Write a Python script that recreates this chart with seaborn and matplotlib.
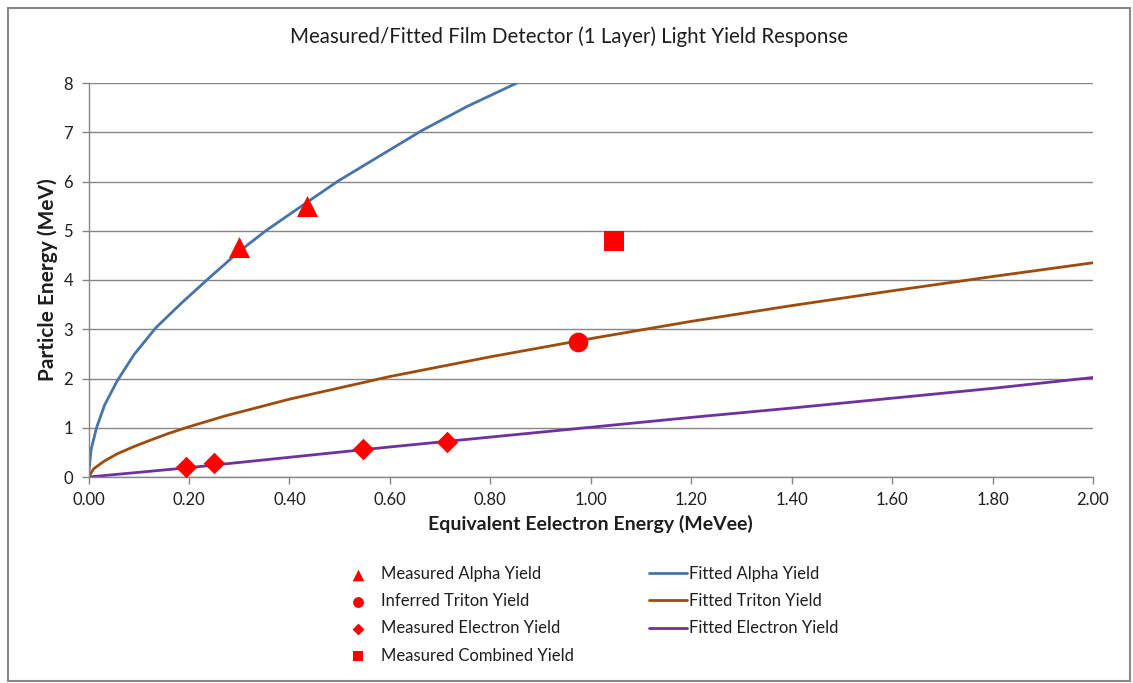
import matplotlib
matplotlib.use("Agg")
import matplotlib.pyplot as plt
from matplotlib import font_manager
from matplotlib.patches import Rectangle
import seaborn as sns

# Measured / inferred points (Equivalent electron energy MeVee, particle energy MeV)
alpha_x = [0.300, 0.436]
alpha_y = [4.67, 5.50]
triton_x = [0.975]
triton_y = [2.74]
electron_x = [0.195, 0.250, 0.547, 0.713]
electron_y = [0.20, 0.28, 0.57, 0.72]
combined_x = [1.046]
combined_y = [4.79]

# Fitted response curves
fit_alpha_x = [0.0, 0.005, 0.016, 0.032, 0.057, 0.091, 0.134, 0.186, 0.240,
               0.300, 0.353, 0.424, 0.497, 0.580, 0.663, 0.755, 0.853]
fit_alpha_y = [0.0, 0.55, 1.00, 1.46, 1.95, 2.49, 3.03, 3.54, 4.04,
               4.58, 5.00, 5.50, 6.01, 6.52, 7.03, 7.53, 8.00]
fit_triton_x = [0.0, 0.0106, 0.031, 0.057, 0.091, 0.124, 0.158, 0.200, 0.272,
                0.400, 0.600, 0.800, 1.000, 1.200, 1.400, 1.600, 1.800, 2.000]
fit_triton_y = [0.0, 0.17, 0.32, 0.47, 0.62, 0.75, 0.88, 1.02, 1.24,
                1.58, 2.04, 2.44, 2.81, 3.16, 3.48, 3.78, 4.07, 4.35]
fit_electron_x = [0.0, 0.2, 0.4, 0.6, 0.8, 1.0, 1.2, 1.4, 1.6, 1.8, 2.0]
fit_electron_y = [0.0, 0.19, 0.40, 0.61, 0.81, 1.01, 1.21, 1.40, 1.60, 1.80, 2.02]

x_ticks = [0.0, 0.2, 0.4, 0.6, 0.8, 1.0, 1.2, 1.4, 1.6, 1.8, 2.0]
x_tick_labels = ["0.00", "0.20", "0.40", "0.60", "0.80", "1.00",
                 "1.20", "1.40", "1.60", "1.80", "2.00"]
y_ticks = [0, 1, 2, 3, 4, 5, 6, 7, 8]

sns.set_theme(style="white")
available = {f.name for f in font_manager.fontManager.ttflist}
family = "Liberation Sans Narrow" if "Liberation Sans Narrow" in available else "Lato"
plt.rcParams["font.family"] = [family, "DejaVu Sans"]

W, H = 1133, 683
fig = plt.figure(figsize=(W / 100, H / 100), dpi=100)
fig.patch.set_facecolor("white")

def fx(px):
    return px / W

def fy(py):
    return 1 - py / H

ax = fig.add_axes([fx(88.5), fy(477), fx(1093) - fx(88.5), fy(83) - fy(477)])

grid_c = "#868686"
text_c = "#1e1e1e"
blue, brown, purple, red = "#4674AA", "#9E4B0E", "#7030A0", "#FF0000"

sns.lineplot(x=fit_alpha_x, y=fit_alpha_y, ax=ax, color=blue, linewidth=2.0,
             sort=False, estimator=None, label="Fitted Alpha Yield", legend=False)
sns.lineplot(x=fit_triton_x, y=fit_triton_y, ax=ax, color=brown, linewidth=2.0,
             sort=False, estimator=None, label="Fitted Triton Yield", legend=False)
sns.lineplot(x=fit_electron_x, y=fit_electron_y, ax=ax, color=purple, linewidth=2.0,
             sort=False, estimator=None, label="Fitted Electron Yield", legend=False)

sns.scatterplot(x=alpha_x, y=alpha_y, ax=ax, marker="^", s=230, color=red,
                linewidth=0, label="Measured Alpha Yield", legend=False, zorder=5)
sns.scatterplot(x=triton_x, y=triton_y, ax=ax, marker="o", s=200, color=red,
                linewidth=0, label="Inferred Triton Yield", legend=False, zorder=5)
sns.scatterplot(x=electron_x, y=electron_y, ax=ax, marker="D", s=120, color=red,
                linewidth=0, label="Measured Electron Yield", legend=False, zorder=5)
sns.scatterplot(x=combined_x, y=combined_y, ax=ax, marker="s", s=200, color=red,
                linewidth=0, label="Measured Combined Yield", legend=False, zorder=5)
if ax.get_legend() is not None:
    ax.get_legend().remove()

ax.set_xlim(0, 2.0)
ax.set_ylim(0, 8)
ax.set_xticks(x_ticks)
ax.set_xticklabels(x_tick_labels)
ax.set_yticks(y_ticks)
ax.grid(axis="y", color=grid_c, linewidth=1.0)
ax.grid(axis="x", visible=False)
ax.set_axisbelow(True)
for side in ("top", "right"):
    ax.spines[side].set_visible(False)
for side in ("left", "bottom"):
    ax.spines[side].set_color(grid_c)
    ax.spines[side].set_linewidth(1.0)
ax.tick_params(axis="both", which="major", direction="out", length=5, width=1.0,
               color=grid_c, labelsize=12, labelcolor=text_c, pad=6,
               bottom=True, left=True)

ax.set_xlabel("Equivalent Eelectron Energy (MeVee)", fontsize=14,
              fontweight="bold", color=text_c, labelpad=5)
ax.set_ylabel("Particle Energy (MeV)", fontsize=15, fontweight="bold",
              color=text_c, labelpad=4)
fig.text(fx(569), fy(37), "Measured/Fitted Film Detector (1 Layer) Light Yield Response",
         ha="center", va="center", fontsize=14.8, color=text_c)

handles, labels = ax.get_legend_handles_labels()
lookup = dict(zip(labels, handles))
left_labels = ["Measured Alpha Yield", "Inferred Triton Yield",
               "Measured Electron Yield", "Measured Combined Yield"]
right_labels = ["Fitted Alpha Yield", "Fitted Triton Yield", "Fitted Electron Yield"]

leg_kw = dict(frameon=False, fontsize=12, borderpad=0, borderaxespad=0,
              labelspacing=0.67, labelcolor=text_c)
leg1 = fig.legend([lookup[l] for l in left_labels], left_labels,
                  loc="center left", bbox_to_anchor=(fx(350), fy(614.8)),
                  handlelength=1.0, handletextpad=0.85, markerscale=0.55, **leg_kw)
leg2 = fig.legend([lookup[l] for l in right_labels], right_labels,
                  loc="center left", bbox_to_anchor=(fx(649), fy(601.3)),
                  handlelength=2.25, handletextpad=0.15, **leg_kw)

fig.add_artist(Rectangle((fx(8), fy(681)), fx(1130) - fx(8), fy(8) - fy(681),
                         transform=fig.transFigure, fill=False,
                         edgecolor="#888888", linewidth=1.5))

fig.savefig("out.png", dpi=100)
